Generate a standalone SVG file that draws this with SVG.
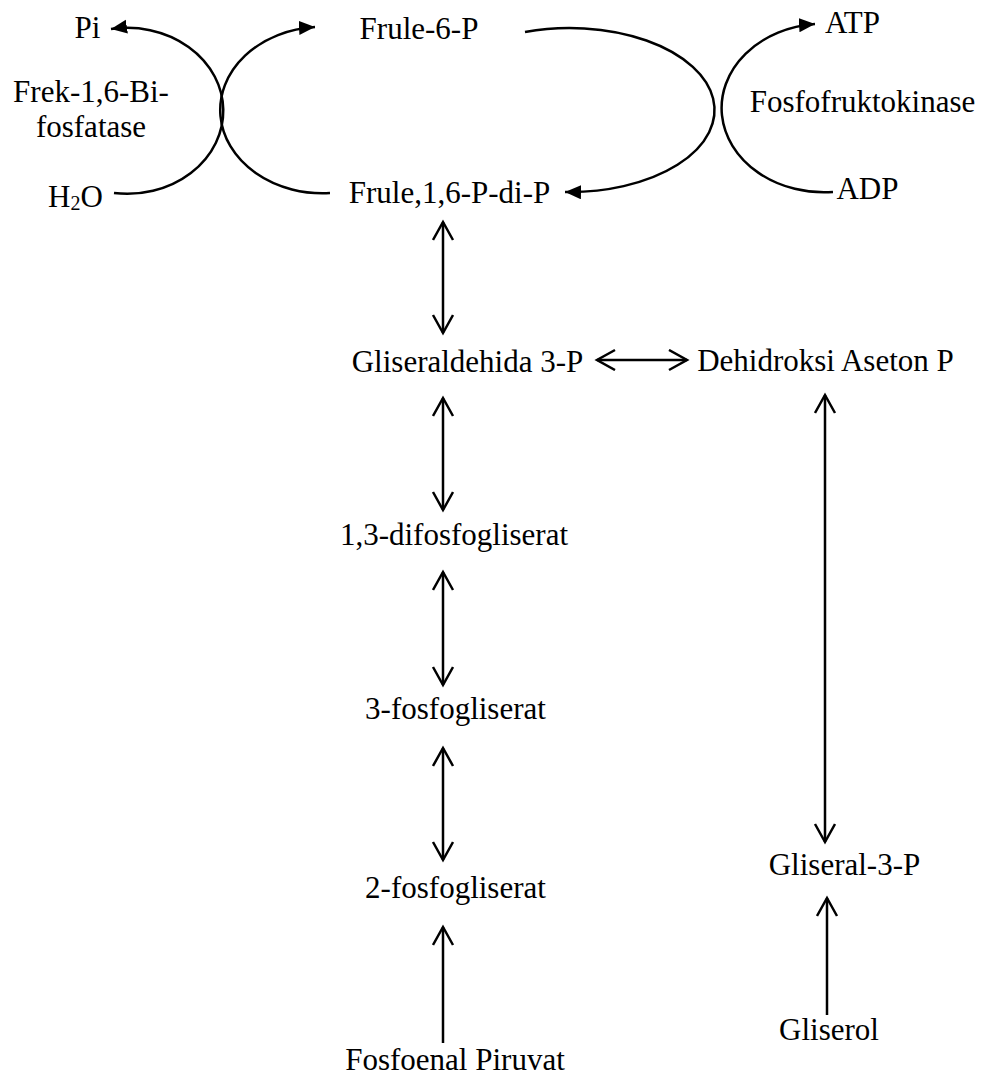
<svg xmlns="http://www.w3.org/2000/svg" width="986" height="1077" viewBox="0 0 986 1077">
<style>
text{font-family:"Liberation Serif","Times New Roman",serif;font-size:31px;fill:#000;text-anchor:middle}
.s{text-anchor:start}
.ln{fill:none;stroke:#000;stroke-width:2.5}
</style>
<defs>
<marker id="open" markerUnits="userSpaceOnUse" markerWidth="24" markerHeight="26" refX="19" refY="11" orient="auto-start-reverse" viewBox="0 0 24 26">
<path d="M1,1 L19,11 L1,21" fill="none" stroke="#000" stroke-width="2.5"/>
</marker>
<marker id="fill" markerUnits="userSpaceOnUse" markerWidth="18" markerHeight="16" refX="16" refY="7" orient="auto" viewBox="0 0 18 16">
<path d="M0,0 L16,7 L0,14 z" fill="#000"/>
</marker>
</defs>
<g id="connectors">
<path class="ln" d="M114,193 A 96 83 0 1 0 111,29" marker-end="url(#fill)"/>
<path class="ln" d="M330,193 A 102 83 0 1 1 315,27" marker-end="url(#fill)"/>
<path class="ln" d="M525,32 A 145 82 0 1 1 565,192" marker-end="url(#fill)"/>
<path class="ln" d="M833,192 A 102 84 0 1 1 815,24" marker-end="url(#fill)"/>
<line class="ln" x1="443" y1="222" x2="443" y2="333" marker-start="url(#open)" marker-end="url(#open)"/>
<line class="ln" x1="443" y1="398" x2="443" y2="510" marker-start="url(#open)" marker-end="url(#open)"/>
<line class="ln" x1="443" y1="572" x2="443" y2="685" marker-start="url(#open)" marker-end="url(#open)"/>
<line class="ln" x1="443" y1="748" x2="443" y2="860" marker-start="url(#open)" marker-end="url(#open)"/>
<line class="ln" x1="443" y1="1043" x2="443" y2="927" marker-end="url(#open)"/>
<line class="ln" x1="597" y1="360" x2="687" y2="360" marker-start="url(#open)" marker-end="url(#open)"/>
<line class="ln" x1="825" y1="395" x2="825" y2="842" marker-start="url(#open)" marker-end="url(#open)"/>
<line class="ln" x1="827" y1="1015" x2="827" y2="898" marker-end="url(#open)"/>
</g>
<g id="n-pi"><text x="87.5" y="38">Pi</text></g>
<g id="n-enzyme1"><text x="91" y="102">Frek-1,6-Bi-</text><text x="91" y="137">fosfatase</text></g>
<g id="n-h2o"><text class="s" x="48" y="207">H<tspan font-size="20" dy="3">2</tspan><tspan dy="-3">O</tspan></text></g>
<g id="n-f6p"><text x="419" y="39">Frule-6-P</text></g>
<g id="n-f16p"><text x="449.5" y="203">Frule,1,6-P-di-P</text></g>
<g id="n-atp"><text x="852.5" y="33">ATP</text></g>
<g id="n-enzyme2"><text x="862.5" y="112">Fosfofruktokinase</text></g>
<g id="n-adp"><text x="867.5" y="199">ADP</text></g>
<g id="n-g3p"><text x="467.5" y="372">Gliseraldehida 3-P</text></g>
<g id="n-dhap"><text x="825.5" y="371">Dehidroksi Aseton P</text></g>
<g id="n-13dpg"><text x="454" y="545">1,3-difosfogliserat</text></g>
<g id="n-3pg"><text x="455.5" y="719">3-fosfogliserat</text></g>
<g id="n-2pg"><text x="455.5" y="898">2-fosfogliserat</text></g>
<g id="n-pep"><text x="455" y="1070">Fosfoenal Piruvat</text></g>
<g id="n-gl3p"><text x="844.5" y="875">Gliseral-3-P</text></g>
<g id="n-glycerol"><text x="829" y="1040">Gliserol</text></g>
</svg>
